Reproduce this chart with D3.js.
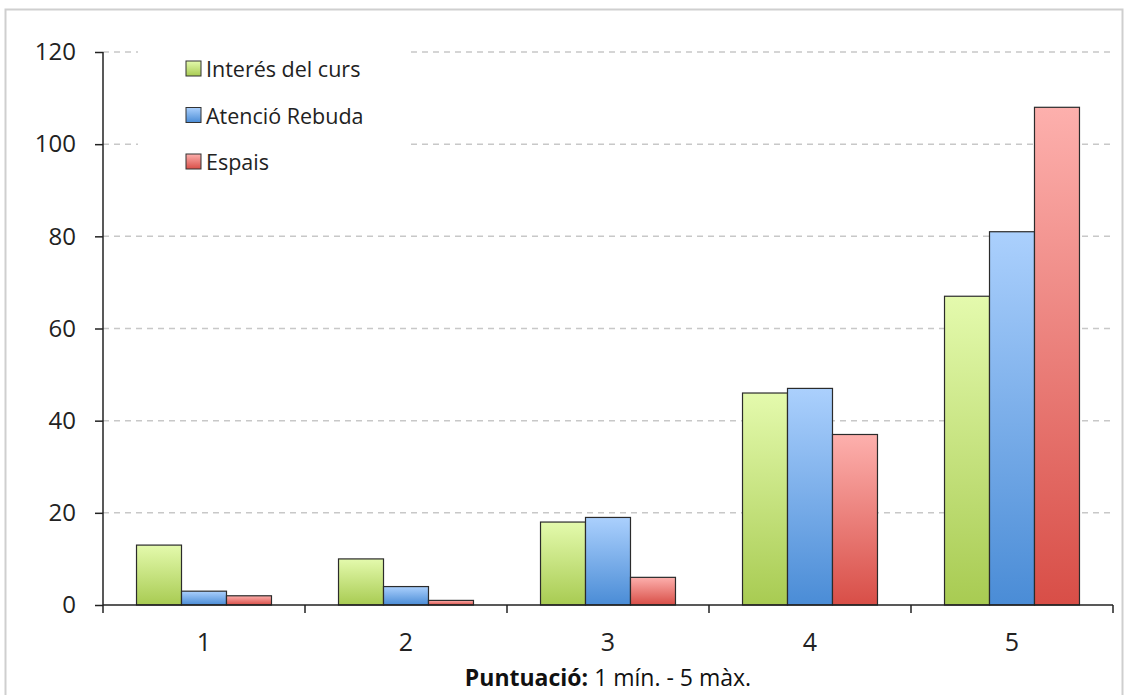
<!DOCTYPE html>
<html>
<head>
<meta charset="utf-8">
<script src="https://cdn.jsdelivr.net/npm/d3@7"></script>
<style>
  body { margin: 0; background: #fff; }
  svg { font-family: "Open Sans", sans-serif; }
</style>
</head>
<body>
<div id="chart"></div>
<script>
// data
const categories = ["1", "2", "3", "4", "5"];
const seriesNames = ["Interés del curs", "Atenció Rebuda", "Espais"];
const interes = [13, 10, 18, 46, 67];
const atencio = [3, 4, 19, 47, 81];
const espais = [2, 1, 6, 37, 108];
const yTicks = [0, 20, 40, 60, 80, 100, 120];

const series = [interes, atencio, espais];
const colors = [
  { top: "#e4faad", bottom: "#a8cb52" },
  { top: "#abd0fd", bottom: "#4a8cd6" },
  { top: "#fdb0ad", bottom: "#d84e47" },
];

const W = 1130, H = 695;
const margin = { top: 52, right: 17, bottom: 90, left: 103 };
const width = W - margin.left - margin.right,
  height = H - margin.top - margin.bottom;

const svg = d3.select("#chart").append("svg")
  .attr("width", W)
  .attr("height", H);

// gradients
const defs = svg.append("defs");
colors.forEach((c, i) => {
  const gr = defs.append("linearGradient")
    .attr("id", "grad" + i)
    .attr("x1", 0).attr("y1", 0).attr("x2", 0).attr("y2", 1);
  gr.append("stop").attr("offset", "0%").attr("stop-color", c.top);
  gr.append("stop").attr("offset", "100%").attr("stop-color", c.bottom);
});

// outer frame
svg.append("rect")
  .attr("x", 5.5).attr("y", 9.5)
  .attr("width", 1117).attr("height", 700)
  .attr("fill", "none")
  .attr("stroke", "#cfcfcf")
  .attr("stroke-width", 2);

const g = svg.append("g")
  .attr("transform", `translate(${margin.left}, ${margin.top})`);

const x = d3.scaleBand(categories, [0, width]).paddingInner(0).paddingOuter(0);
const x1 = d3.scaleBand([0, 1, 2], [0, x.bandwidth()]).paddingOuter(0.745).paddingInner(0);
const y = d3.scaleLinear([0, 120], [height, 0]);

// grid
g.append("g")
  .selectAll("line")
  .data(yTicks.filter(d => d > 0))
  .join("line")
  .attr("x1", 0).attr("x2", width)
  .attr("y1", d => y(d)).attr("y2", d => y(d))
  .attr("stroke", "#c8c8c8")
  .attr("stroke-width", 1.5)
  .attr("stroke-dasharray", "6,5");

// legend background covering grid
g.append("rect")
  .attr("x", 35).attr("y", -8)
  .attr("width", 270).attr("height", 140)
  .attr("fill", "#fff");

// bars
const groups = g.append("g")
  .selectAll("g")
  .data(categories)
  .join("g")
  .attr("transform", d => `translate(${x(d)},0)`);

groups.selectAll("rect")
  .data((d, i) => series.map((s, k) => ({ k, v: s[i] })))
  .join("rect")
  .attr("x", d => x1(d.k))
  .attr("y", d => y(d.v))
  .attr("width", x1.bandwidth())
  .attr("height", d => height - y(d.v))
  .attr("fill", d => `url(#grad${d.k})`)
  .attr("stroke", "#2b2b2b")
  .attr("stroke-width", 1.2);

// y axis
const yAxis = g.append("g")
  .call(d3.axisLeft(y).tickValues(yTicks).tickSize(8).tickPadding(19));
yAxis.select(".domain").attr("stroke", "#222").attr("stroke-width", 1.5).attr("d", `M0,0V${height}`);
yAxis.selectAll(".tick line").attr("stroke", "#222").attr("stroke-width", 1.5);
yAxis.selectAll("text").attr("font-size", 24).attr("fill", "#222").attr("font-family", "'Open Sans', sans-serif");

// x axis
const xAxis = g.append("g")
  .attr("transform", `translate(0,${height})`)
  .call(d3.axisBottom(x).tickSize(0).tickPadding(28));
xAxis.select(".domain").attr("stroke", "#222").attr("stroke-width", 1.5).attr("d", `M0,0H${width}`);
xAxis.selectAll("text").attr("font-size", 25).attr("fill", "#222").attr("font-family", "'Open Sans', sans-serif");

// x ticks between categories
g.append("g")
  .selectAll("line")
  .data(categories.concat(["end"]))
  .join("line")
  .attr("x1", (d, i) => i * x.bandwidth())
  .attr("x2", (d, i) => i * x.bandwidth())
  .attr("y1", height).attr("y2", height + 8)
  .attr("stroke", "#222")
  .attr("stroke-width", 1.5);

// x label
const lbl = svg.append("text")
  .attr("x", 608).attr("y", 686)
  .attr("text-anchor", "middle")
  .attr("font-size", 23)
  .attr("fill", "#111");
lbl.append("tspan").attr("font-weight", "bold").text("Puntuació:");
lbl.append("tspan").text(" 1 mín. - 5 màx.");

// legend
const legend = g.append("g")
  .selectAll("g")
  .data(seriesNames)
  .join("g")
  .attr("transform", (d, i) => `translate(83, ${25 + i * 46.5})`);
legend.append("rect")
  .attr("x", 0).attr("y", -16)
  .attr("width", 15).attr("height", 15)
  .attr("fill", (d, i) => `url(#grad${i})`)
  .attr("stroke", "#333")
  .attr("stroke-width", 1);
legend.append("text")
  .attr("x", 20).attr("y", 0)
  .attr("font-size", 21.5)
  .attr("fill", "#222")
  .text(d => d);
</script>
</body>
</html>
